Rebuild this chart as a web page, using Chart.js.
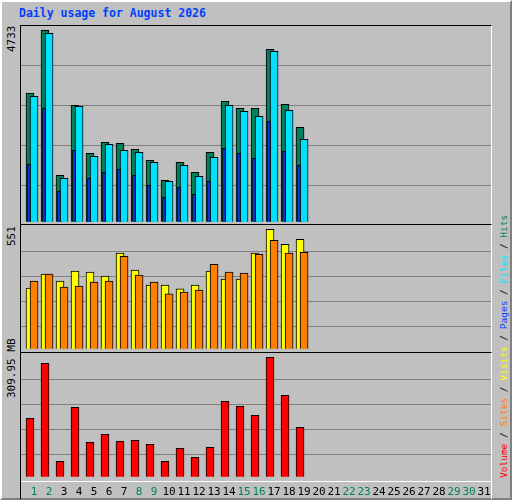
<!DOCTYPE html>
<html>
<head>
<meta charset="utf-8">
<script src="https://cdn.jsdelivr.net/npm/chart.js@4"></script>
<style>
  body { margin: 0; background: #fff; }
  #frame { position: absolute; left: 0; top: 0; width: 508px; height: 496px; background: #c0c0c0;
           border-top: 2px solid #fff; border-left: 2px solid #fff; border-right: 2px solid #808080; border-bottom: 2px solid #808080;
           font-family: "DejaVu Sans Mono", monospace; }
  .panel { position: absolute; left: 18px; width: 470px; border-top: 1px solid #000; border-left: 1px solid #000;
           border-right: 1px solid #fff; border-bottom: 1px solid #fff; }
  .panel canvas { display: block; }
  #title { position: absolute; left: 17px; top: 4px; color: #0040ff; font-weight: bold; font-size: 11.5px; }
  .ylab { position: absolute; font-size: 11px; color: #000; transform-origin: left top; transform: rotate(-90deg); white-space: nowrap; }
  #legend { position: absolute; left: 496px; top: 476px; font-size: 9.5px; transform-origin: left top; transform: rotate(-90deg); white-space: nowrap; }
</style>
</head>
<body>
<div id="frame">
  <div id="title">Daily usage for August 2026</div>
  <div class="panel" style="top:23px;height:198px"><canvas id="c1"></canvas></div>
  <div class="panel" style="top:222px;height:127px"><canvas id="c2"></canvas></div>
  <div class="panel" style="top:350px;height:146px;border-bottom:none"><canvas id="c3"></canvas></div>
  <div class="ylab" style="left:3px;top:50px">4733</div>
  <div class="ylab" style="left:3px;top:244px">551</div>
  <div class="ylab" style="left:3px;top:396px">309.95 MB</div>
  <div id="legend"><span style="color:#ff0000">Volume</span> / <span style="color:#ff8000">Sites</span> / <span style="color:#ffff00">Visits</span> / <span style="color:#0040ff">Pages</span> / <span style="color:#00e0ff">Files</span> / <span style="color:#00805c">Hits</span></div>
</div>
<script>
const days = Array.from({ length: 31 }, (_, i) => i + 1);
const weekendDays = [1, 2, 8, 9, 15, 16, 22, 23, 29, 30];

const hits  = [3183, 4733, 1146, 2878, 1690, 1962, 1938, 1789, 1517, 1022, 1468, 1220, 1715, 2976, 2803, 2803, 4263, 2902, 2333];
const files = [3100, 4658, 1072, 2853, 1616, 1913, 1764, 1715, 1468, 998, 1393, 1121, 1591, 2877, 2729, 2605, 4213, 2754, 2037];
const pages = [1418, 2803, 750, 1764, 1072, 1220, 1294, 1146, 899, 602, 849, 676, 998, 1814, 1690, 1567, 2482, 1740, 1393];
const visits = [280, 344, 312, 358, 354, 335, 441, 363, 294, 294, 276, 294, 358, 321, 321, 441, 551, 482, 505];
const sites  = [312, 344, 285, 289, 308, 312, 427, 340, 308, 253, 262, 271, 390, 354, 349, 436, 500, 441, 445];
const volumeMB = [151.5, 294.4, 39.8, 180.1, 89.2, 110, 91.8, 94.4, 84, 39.8, 73.6, 50.2, 76.2, 195.7, 182.7, 159.3, 309.95, 211.3, 128.1];

const maxHits = 4733, maxVisits = 551, maxVolume = 309.95;
const gridFractions = [0.19, 0.4, 0.61, 0.82];

function pts(values, shift) {
  return values.map((v, i) => ({ x: days[i] + shift, y: v }));
}

function bars(label, values, shift, color, width, order) {
  return {
    label, data: pts(values, shift), backgroundColor: color, borderColor: "#000",
    borderWidth: 1, borderSkipped: "bottom", barThickness: width, order, grouped: false
  };
}

// grey horizontal lines at fixed fractions of the panel max
const gridPlugin = {
  id: "grid",
  beforeDatasetsDraw(chart, args, opts) {
    const { ctx, chartArea, scales } = chart;
    ctx.save();
    ctx.strokeStyle = "#808080";
    ctx.lineWidth = 1;
    gridFractions.forEach(f => {
      const y = Math.round(scales.y.getPixelForValue(opts.max * f)) + 0.5;
      ctx.beginPath();
      ctx.moveTo(chartArea.left, y);
      ctx.lineTo(chartArea.right, y);
      ctx.stroke();
    });
    ctx.restore();
  }
};

// day numbers under the bottom panel
const dayLabels = {
  id: "dayLabels",
  afterDraw(chart, args, opts) {
    if (!opts.show) return;
    const { ctx, chartArea, scales } = chart;
    ctx.save();
    ctx.strokeStyle = "#fff";
    ctx.beginPath();
    ctx.moveTo(0, chartArea.bottom + 2.5);
    ctx.lineTo(chart.width, chartArea.bottom + 2.5);
    ctx.stroke();
    ctx.font = "11px 'DejaVu Sans Mono'";
    ctx.textAlign = "center";
    ctx.textBaseline = "middle";
    days.forEach(d => {
      ctx.fillStyle = weekendDays.includes(d) ? "#00805c" : "#000";
      ctx.fillText(String(d), scales.x.getPixelForValue(d - 0.13), chartArea.bottom + 13);
    });
    ctx.restore();
  }
};

function makeChart(id, datasets, yMin, yMax, gridMax, bottomPad, showDays) {
  return new Chart(document.getElementById(id), {
    type: "bar",
    data: { datasets },
    options: {
      responsive: true,
      maintainAspectRatio: false,
      animation: false,
      layout: { padding: { bottom: bottomPad } },
      scales: {
        x: { type: "linear", min: 0, max: 31.33, display: false, offset: false },
        y: { min: yMin, max: yMax, display: false }
      },
      plugins: {
        legend: { display: false },
        tooltip: { enabled: false },
        grid: { max: gridMax },
        dayLabels: { show: showDays }
      }
    },
    plugins: [gridPlugin, dayLabels]
  });
}

makeChart("c1", [
  bars("Hits", hits, -0.4, "#00805c", 8, 3),
  bars("Files", files, -0.13, "#00e0ff", 8, 2),
  bars("Pages", pages, -0.47, "#0040ff", 3, 1)
], -57, 4839, maxHits, 0, false);

makeChart("c2", [
  bars("Visits", visits, -0.4, "#ffff00", 8, 2),
  bars("Sites", sites, -0.13, "#ff8000", 8, 1)
], -15, 571, maxVisits, 0, false);

makeChart("c3", [
  bars("Volume", volumeMB, -0.4, "#ff0000", 8, 1)
], -6, 321, maxVolume, 20, true);
</script>
</body>
</html>
